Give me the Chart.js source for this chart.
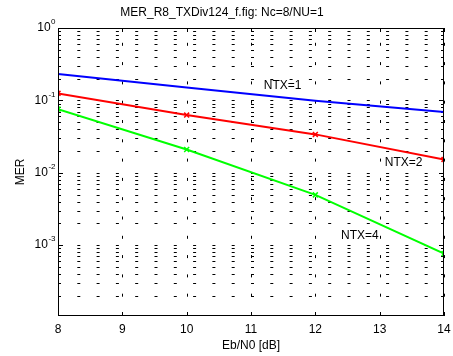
<!DOCTYPE html>
<html>
<head>
<meta charset="utf-8">
<script src="https://cdn.jsdelivr.net/npm/chart.js@4/dist/chart.umd.min.js"></script>
<style>
  html, body { margin: 0; padding: 0; background: #fff; }
  #wrap { width: 453px; height: 356px; }
</style>
</head>
<body>
<div id="wrap"><canvas id="chart" width="453" height="356"></canvas></div>
<script>
// data
const ebn0 = [8, 10, 12, 14];
const merNtx1 = [0.231, 0.151, 0.099, 0.069];
const merNtx2 = [0.125, 0.0626, 0.0339, 0.0153];
const merNtx4 = [0.0758, 0.021, 0.00495, 0.000765];
const xTicks = [8, 9, 10, 11, 12, 13, 14];
const yDecades = [0, -1, -2, -3];

// curve labels, anchored in data coordinates
const curveLabels = [
  { text: 'NTX=1', x: 11.2, y: 0.161 },
  { text: 'NTX=2', x: 13.08, y: 0.0140 },
  { text: 'NTX=4', x: 12.4, y: 0.00137 }
];

const FONT = 'Arial, "Liberation Sans", sans-serif';
const Y_MIN = 1.05e-4;

const toPoints = ys => ebn0.map((x, i) => ({ x: x, y: ys[i] }));

// minor grid values inside the y range
const yMinor = [];
for (let e = -4; e <= -1; e++) {
  for (let m = 1; m <= 9; m++) {
    const v = m * Math.pow(10, e);
    if (v >= Y_MIN && v <= 1) yMinor.push(v);
  }
}
yMinor.push(1);

function seg(ctx, x1, y1, x2, y2) {
  ctx.beginPath();
  ctx.moveTo(x1, y1);
  ctx.lineTo(x2, y2);
  ctx.stroke();
}

const matlabAxes = {
  id: 'matlabAxes',
  beforeDatasetsDraw(chart) {
    const { ctx, chartArea: a, scales: { x, y } } = chart;
    ctx.save();
    ctx.strokeStyle = '#000';
    ctx.lineWidth = 1;

    // dotted grid
    ctx.setLineDash([3, 16.3]);
    yMinor.forEach(v => {
      const py = Math.round(y.getPixelForValue(v)) + 0.5;
      seg(ctx, a.left, py, a.right, py);
    });
    xTicks.forEach(v => {
      const px = Math.round(x.getPixelForValue(v)) + 0.5;
      seg(ctx, px, a.bottom, px, a.top);
    });
    ctx.setLineDash([]);

    // tick marks, inward on all sides
    xTicks.forEach(v => {
      const px = Math.round(x.getPixelForValue(v)) + 0.5;
      seg(ctx, px, a.bottom, px, a.bottom - 4);
      seg(ctx, px, a.top, px, a.top + 4);
    });
    yMinor.forEach(v => {
      const py = Math.round(y.getPixelForValue(v)) + 0.5;
      const major = Math.abs(Math.log10(v) - Math.round(Math.log10(v))) < 1e-9;
      const len = major ? 5 : 3;
      seg(ctx, a.left, py, a.left + len, py);
      seg(ctx, a.right, py, a.right - len, py);
    });

    // y tick labels with superscripts
    ctx.fillStyle = '#000';
    ctx.textBaseline = 'middle';
    ctx.textAlign = 'left';
    yDecades.forEach(e => {
      const py = y.getPixelForValue(Math.pow(10, e));
      const exp = String(e);
      ctx.font = '12px ' + FONT;
      const wBase = ctx.measureText('10').width;
      ctx.font = '8px ' + FONT;
      const wExp = ctx.measureText(exp).width;
      const x0 = a.left - 3 - wBase - wExp;
      ctx.font = '12px ' + FONT;
      ctx.fillText('10', x0, py);
      ctx.font = '8px ' + FONT;
      ctx.fillText(exp, x0 + wBase + 0.5, py - 6);
    });
    ctx.restore();
  },
  afterDatasetsDraw(chart) {
    const { ctx, chartArea: a, scales: { x, y } } = chart;
    ctx.save();
    ctx.strokeStyle = '#000';
    ctx.lineWidth = 1;
    ctx.strokeRect(Math.round(a.left) + 0.5, Math.round(a.top) + 0.5,
      Math.round(a.width) - 1, Math.round(a.height) - 1);

    ctx.fillStyle = '#000';
    ctx.font = '12px ' + FONT;
    ctx.textBaseline = 'middle';
    ctx.textAlign = 'left';
    curveLabels.forEach(l => {
      ctx.fillText(l.text, x.getPixelForValue(l.x), y.getPixelForValue(l.y));
    });
    ctx.restore();
  }
};

new Chart(document.getElementById('chart'), {
  type: 'line',
  data: {
    datasets: [
      {
        label: 'NTX=1',
        data: toPoints(merNtx1),
        borderColor: '#0000ff',
        borderWidth: 2,
        pointRadius: 0
      },
      {
        label: 'NTX=2',
        data: toPoints(merNtx2),
        borderColor: '#ff0000',
        borderWidth: 2,
        pointStyle: 'crossRot',
        pointRadius: 3.5,
        pointBorderWidth: 1.5,
        pointBorderColor: '#ff0000'
      },
      {
        label: 'NTX=4',
        data: toPoints(merNtx4),
        borderColor: '#00ff00',
        borderWidth: 2,
        pointStyle: 'crossRot',
        pointRadius: 3.5,
        pointBorderWidth: 1.5,
        pointBorderColor: '#00ff00'
      }
    ]
  },
  options: {
    responsive: false,
    animation: false,
    layout: { padding: { left: 0, right: 9, top: 0, bottom: 0 } },
    plugins: {
      legend: { display: false },
      tooltip: { enabled: false },
      title: {
        display: true,
        text: 'MER_R8_TXDiv124_f.fig: Nc=8/NU=1',
        color: '#000',
        font: { family: FONT, size: 12, weight: 'normal' },
        padding: { top: 5, bottom: 8.6 }
      }
    },
    scales: {
      x: {
        type: 'linear',
        min: 8,
        max: 14,
        grid: { display: false, drawTicks: false },
        border: { display: false },
        ticks: {
          stepSize: 1,
          color: '#000',
          padding: 6,
          font: { family: FONT, size: 12 }
        },
        title: {
          display: true,
          text: 'Eb/N0 [dB]',
          color: '#000',
          font: { family: FONT, size: 12 },
          padding: { top: 0, bottom: 3.5 }
        },
        afterFit: s => {
          s.height = 40;
          s.paddingLeft = 0;
          s.paddingRight = 0;
        }
      },
      y: {
        type: 'logarithmic',
        min: Y_MIN,
        max: 1,
        grid: { display: false, drawTicks: false },
        border: { display: false },
        ticks: { display: false },
        title: {
          display: true,
          text: 'MER',
          color: '#000',
          font: { family: FONT, size: 12 },
          padding: { top: 13, bottom: 0 }
        },
        afterFit: s => { s.width = 58; }
      }
    }
  },
  plugins: [matlabAxes]
});
</script>
</body>
</html>
